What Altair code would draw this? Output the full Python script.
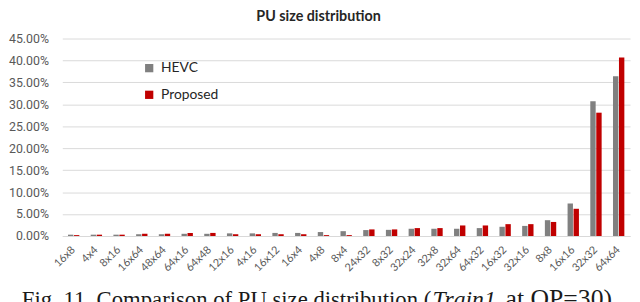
import altair as alt
import pandas as pd

categories = ["16x8", "4x4", "8x16", "16x64", "48x64", "64x16", "64x48", "12x16", "4x16",
              "16x12", "16x4", "4x8", "8x4", "24x32", "8x32", "32x24", "32x8", "32x64",
              "64x32", "16x32", "32x16", "8x8", "16x16", "32x32", "64x64"]
hevc = [0.3, 0.3, 0.3, 0.4, 0.4, 0.5, 0.5, 0.6, 0.6, 0.7, 0.7, 0.9, 1.1, 1.35, 1.4,
        1.65, 1.65, 1.65, 1.8, 2.1, 2.3, 3.6, 7.4, 30.7, 36.4]
proposed = [0.2, 0.3, 0.3, 0.5, 0.5, 0.7, 0.7, 0.4, 0.4, 0.4, 0.4, 0.2, 0.2, 1.5, 1.5,
            1.8, 1.8, 2.4, 2.4, 2.7, 2.7, 3.2, 6.2, 28.1, 40.7]
series = ["HEVC", "Proposed"]
colors = ["#808080", "#C00000"]
y_ticks = [0.0, 0.05, 0.10, 0.15, 0.20, 0.25, 0.30, 0.35, 0.40, 0.45]

rows = []
for c, h, p in zip(categories, hevc, proposed):
    rows.append({"size": c, "series": "HEVC", "value": h / 100})
    rows.append({"size": c, "series": "Proposed", "value": p / 100})
df = pd.DataFrame(rows)

W, H = 575, 200
FONT = "Lato"

bars = alt.Chart(df).mark_bar().encode(
    x=alt.X("size:N", sort=categories,
            scale=alt.Scale(paddingInner=0.5, paddingOuter=0.25),
            axis=alt.Axis(title=None, labelAngle=-45, labelAlign="right",
                          labelBaseline="middle", labelFontSize=11, ticks=False,
                          domainColor="#d9d9d9", labelPadding=12, grid=False,
                          labelColor="#595959", labelFont=FONT)),
    xOffset=alt.XOffset("series:N", sort=series, scale=alt.Scale(paddingInner=0.1)),
    y=alt.Y("value:Q", scale=alt.Scale(domain=[0, 0.45], nice=False),
            axis=alt.Axis(title=None, format=".2%", values=y_ticks, domain=False,
                          ticks=False, gridColor="#d9d9d9", labelFontSize=12.5,
                          labelPadding=14, labelColor="#595959", labelFont="Roboto")),
    color=alt.Color("series:N", sort=series,
                    scale=alt.Scale(domain=series, range=colors),
                    legend=alt.Legend(title=None, orient="none", legendX=81, legendY=23,
                                      symbolType="square", symbolSize=70,
                                      symbolStrokeWidth=0, labelFontSize=14,
                                      labelFont=FONT, labelColor="#262626",
                                      rowPadding=13, padding=0, labelOffset=5)),
)

title = alt.Chart(pd.DataFrame({"t": ["PU size distribution"]})).mark_text(
    font=FONT, fontSize=14.5, fontWeight="bold", color="#262626",
    align="center", baseline="alphabetic"
).encode(text="t:N", x=alt.value(259.5), y=alt.value(-18))

cap1 = alt.Chart(pd.DataFrame({"t": ["Fig. 11. Comparison of PU size distribution ("]})).mark_text(
    font="Liberation Serif", fontSize=23, color="#1a1a1a", align="left", baseline="alphabetic"
).encode(text="t:N", x=alt.value(-41), y=alt.value(272))
cap2 = alt.Chart(pd.DataFrame({"t": ["Train1"]})).mark_text(
    font="Liberation Serif", fontSize=24, fontStyle="italic", color="#1a1a1a",
    align="left", baseline="alphabetic"
).encode(text="t:N", x=alt.value(375), y=alt.value(272))
cap3 = alt.Chart(pd.DataFrame({"t": ["at QP=30)"]})).mark_text(
    font="Liberation Serif", fontSize=26, color="#1a1a1a", align="left", baseline="alphabetic"
).encode(text="t:N", x=alt.value(449), y=alt.value(272))

chart = alt.layer(bars, title, cap1, cap2, cap3).properties(
    width=W, height=H,
    autosize=alt.AutoSizeParams(type="none"),
    padding={"left": 55, "top": 29, "right": 2, "bottom": 70},
).configure_view(stroke=None)

chart.save("out.html", embed_options={"renderer": "svg", "actions": False})
